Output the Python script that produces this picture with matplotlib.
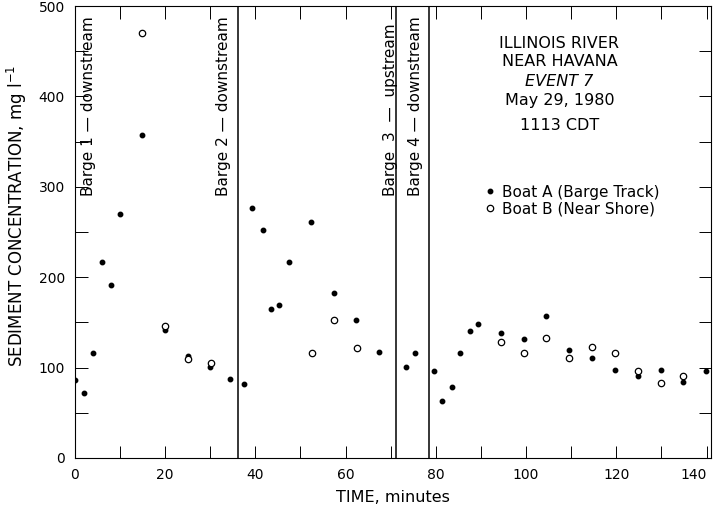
import matplotlib
matplotlib.use('Agg')
import matplotlib.pyplot as plt
from matplotlib.ticker import MultipleLocator

plt.rcParams['font.family'] = ['DejaVu Sans']

# Boat A (barge track)
time_a = [0, 2, 4, 6, 8, 10, 15, 20, 25, 30, 34.5, 37.5, 39.2, 41.7, 43.4, 45.2,
          47.4, 52.4, 57.4, 62.4, 67.5, 73.4, 75.3, 79.7, 81.3, 83.5, 85.3, 87.5,
          89.3, 94.5, 99.5, 104.4, 109.6, 114.6, 119.7, 124.8, 129.8, 134.8, 139.8]
conc_a = [86, 72, 116, 217, 191, 270, 357, 142, 113, 101, 87, 82, 277, 252, 165, 169,
          217, 261, 183, 153, 117, 101, 116, 96, 63, 78, 116, 141, 148, 138, 132, 157,
          120, 111, 97, 91, 97, 84, 96]

# Boat B (near shore)
time_b = [15, 20, 25.2, 30.3, 52.6, 57.4, 62.5, 94.5, 99.5, 104.4, 109.6, 114.6, 119.7,
          124.8, 129.8, 134.8]
conc_b = [470, 146, 109, 105, 116, 153, 122, 128, 116, 133, 111, 123, 116, 96, 83, 91]

# barge passages
barge_lines = [36.2, 71.2, 78.4]
barge_labels = ['Barge 1 \u2014 downstream', 'Barge 2 \u2014 downstream',
                'Barge  3  \u2014  upstream', 'Barge 4 \u2014 downstream']
barge_label_x = [3, 33, 70, 75.4]

info_lines = ['ILLINOIS RIVER', 'NEAR HAVANA', 'EVENT 7', 'May 29, 1980', '1113 CDT']
info_y = [458, 439, 417, 395, 368]

x_ticks = [0, 20, 40, 60, 80, 100, 120, 140]

fig = plt.figure(figsize=(7.14, 5.09), dpi=100)
ax = fig.add_axes([0.1046, 0.1002, 0.8914, 0.8880])

for xb in barge_lines:
    ax.axvline(xb, color='black', lw=1.1)

ax.plot(time_a, conc_a, linestyle='none', marker='o', ms=3.2, color='black',
        label='Boat A (Barge Track)')
ax.plot(time_b, conc_b, linestyle='none', marker='o', ms=4.6, mfc='white',
        mec='black', mew=0.9, label='Boat B (Near Shore)')

for lab, xl in zip(barge_labels, barge_label_x):
    ax.text(xl, 290, lab, rotation=90, ha='center', va='bottom', fontsize=11)

for t, yy in zip(info_lines, info_y):
    st = 'italic' if t.startswith('EVENT') else 'normal'
    ax.text(107.4, yy, t, ha='center', va='center', fontsize=11.5, style=st)

ax.legend(loc='upper left', bbox_to_anchor=(0.645, 0.605), frameon=False,
          handlelength=0.6, handletextpad=0.5, labelspacing=0.1, borderpad=0,
          borderaxespad=0, fontsize=11)

ax.set_xlim(0, 141)
ax.set_ylim(0, 500)
ax.set_xticks(x_ticks, [str(v) for v in x_ticks])
ax.xaxis.set_minor_locator(MultipleLocator(10))
ax.yaxis.set_major_locator(MultipleLocator(100))
ax.yaxis.set_minor_locator(MultipleLocator(50))
ax.tick_params(which='both', direction='in', top=True, right=True,
               length=9, width=0.7, labelsize=10, pad=7)
for s in ax.spines.values():
    s.set_linewidth(0.8)

for lab in ax.get_xticklabels():
    if lab.get_text() == '140':
        lab.set_ha('right')
        lab.set_x(lab.get_position()[0])

ax.set_xlabel('TIME, minutes', fontsize=11.5, labelpad=6)
ax.set_ylabel('SEDIMENT CONCENTRATION, mg l$^{-1}$', fontsize=12)
ax.yaxis.set_label_coords(-0.072, 0.535)

plt.savefig('out.png', dpi=100)
